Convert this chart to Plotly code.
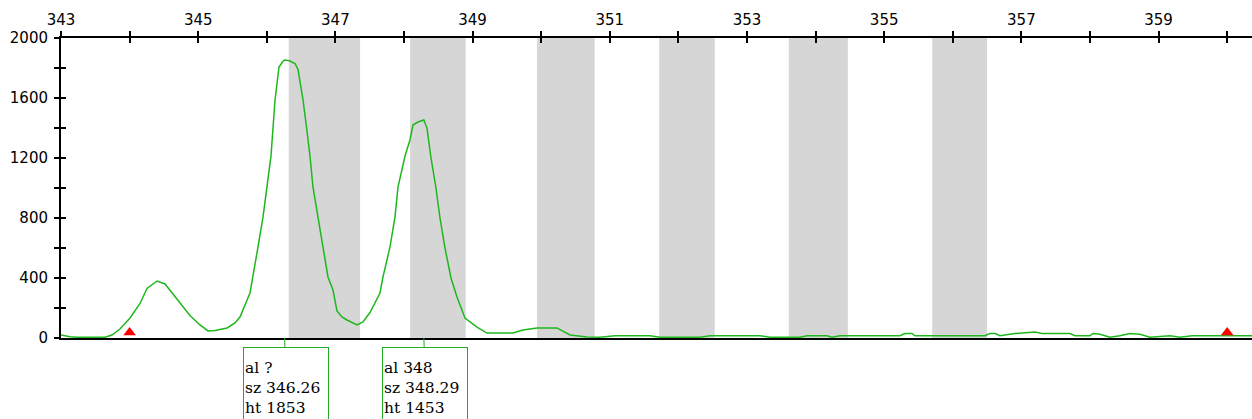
import plotly.graph_objects as go

# ---- data ----
size_bp = [343.000, 343.131, 343.233, 343.641, 343.743, 343.860, 344.006, 344.152, 344.254, 344.399,
           344.516, 344.735, 344.880, 345.026, 345.143, 345.245, 345.420, 345.536, 345.609, 345.755,
           345.799, 345.872, 345.945, 346.003, 346.061, 346.120, 346.178, 346.236, 346.260, 346.330,
           346.411, 346.455, 346.528, 346.586, 346.630, 346.673, 346.746, 346.819, 346.892, 346.965,
           347.023, 347.096, 347.169, 347.315, 347.402, 347.504, 347.650, 347.694, 347.796, 347.869,
           347.913, 348.015, 348.087, 348.131, 348.204, 348.289, 348.335, 348.394, 348.466, 348.525,
           348.598, 348.685, 348.773, 348.889, 349.064, 349.210, 349.589, 349.735, 349.939, 350.230,
           350.420, 350.668, 350.857, 351.076, 351.586, 351.732, 352.315, 352.461, 353.190, 353.335,
           353.773, 353.875, 354.166, 354.239, 354.356, 355.230, 355.303, 355.405, 355.449, 356.469,
           356.542, 356.615, 356.688, 356.907, 357.198, 357.300, 357.708, 357.781, 358.000, 358.044,
           358.146, 358.219, 358.292, 358.437, 358.583, 358.729, 358.802, 358.875, 359.166, 359.312,
           359.487, 360.362]
rfu = [20, 8, 5, 5, 20, 60, 133, 230, 330, 380,
       360, 233, 150, 87, 47, 50, 67, 100, 140, 300,
       407, 607, 807, 1007, 1213, 1587, 1807, 1845, 1853, 1848,
       1830, 1790, 1587, 1380, 1213, 1007, 807, 607, 407, 320,
       180, 140, 120, 87, 107, 170, 300, 407, 607, 807,
       1007, 1213, 1320, 1420, 1440, 1453, 1400, 1200, 1000, 800,
       600, 400, 273, 133, 73, 33, 33, 53, 67, 67,
       20, 7, 5, 15, 15, 5, 5, 15, 15, 5,
       5, 15, 15, 5, 15, 15, 30, 30, 15, 15,
       30, 30, 15, 30, 40, 30, 30, 15, 15, 30,
       25, 15, 5, 15, 30, 25, 15, 5, 15, 5,
       15, 15]

bin_start = [346.32, 348.09, 349.94, 351.72, 353.61, 355.70]
bin_end = [347.36, 348.90, 350.78, 352.53, 354.47, 356.50]

size_std_bp = [344.0, 360.0]

peak_size = [346.26, 348.29]
peak_height = [1853, 1453]
peak_allele = ["?", "348"]

x_ticks = list(range(343, 361))
x_ticktext = [str(v) if v % 2 == 1 else "" for v in x_ticks]
y_ticks = list(range(0, 2001, 200))
y_ticktext = [str(v) if v % 400 == 0 else "" for v in y_ticks]

X_RANGE = [343, 360.362]
Y_RANGE = [0, 2000]
TRACE_GREEN = "#1DB71D"
BOX_GREEN = "#22AA22"
BIN_GRAY = "#D6D6D6"
MARKER_SIZE = 11

fig = go.Figure()

fig.add_trace(go.Scatter(x=size_bp, y=rfu, mode="lines",
                         line=dict(color=TRACE_GREEN, width=1.5), showlegend=False,
                         hoverinfo="skip"))

# size-standard markers: triangle centre lifted by half its height so the base sits on 0
half_h = (MARKER_SIZE / 2) * (Y_RANGE[1] - Y_RANGE[0]) / 300.0
fig.add_trace(go.Scatter(x=size_std_bp, y=[half_h] * len(size_std_bp), mode="markers",
                         marker=dict(symbol="triangle-up", size=MARKER_SIZE, color="#FF0000"),
                         showlegend=False, cliponaxis=False, hoverinfo="skip"))

# dummy trace for the inner-tick overlay axes
fig.add_trace(go.Scatter(x=[None], y=[None], xaxis="x2", yaxis="y2", showlegend=False))

for s, e in zip(bin_start, bin_end):
    fig.add_shape(type="rect", xref="x", yref="paper", x0=s, x1=e, y0=0, y1=1,
                  fillcolor=BIN_GRAY, line=dict(width=0), layer="below")

for s, h, a in zip(peak_size, peak_height, peak_allele):
    fig.add_annotation(x=s, y=0, xref="x", yref="y",
                       text=f"al {a}<br>sz {s:.2f}<br>ht {h}",
                       showarrow=True, arrowhead=0, arrowwidth=1, arrowcolor=BOX_GREEN,
                       ax=1.5, ay=50, axref="pixel", ayref="pixel",
                       align="left", valign="middle", width=82, height=78,
                       bordercolor=BOX_GREEN, borderwidth=1, borderpad=1, bgcolor="white",
                       font=dict(family="DejaVu Serif", size=15.5, color="black"))

axis_font = dict(family="DejaVu Sans", size=15, color="black")

fig.update_layout(
    width=1252, height=419,
    margin=dict(l=61, r=0, t=38, b=81, pad=0),
    paper_bgcolor="white", plot_bgcolor="white",
    xaxis=dict(range=X_RANGE, side="top", tickvals=x_ticks, ticktext=x_ticktext,
               ticks="outside", ticklen=5, tickwidth=1.5, tickcolor="black",
               showline=True, linecolor="black", linewidth=2, mirror=True,
               showgrid=False, zeroline=False, tickfont=axis_font, ticklabelstandoff=0),
    yaxis=dict(range=Y_RANGE, tickvals=y_ticks, ticktext=y_ticktext,
               ticks="outside", ticklen=5, tickwidth=1.5, tickcolor="black",
               showline=True, linecolor="black", linewidth=2,
               showgrid=False, zeroline=False, tickfont=axis_font, ticklabelstandoff=3),
    xaxis2=dict(range=X_RANGE, overlaying="x", side="top", anchor="y", tickvals=x_ticks,
                ticks="inside", ticklen=5, tickwidth=1.5, tickcolor="black",
                showticklabels=False, showline=False, showgrid=False, zeroline=False),
    yaxis2=dict(range=Y_RANGE, overlaying="y", side="left", anchor="x", tickvals=y_ticks,
                ticks="inside", ticklen=5, tickwidth=1.5, tickcolor="black",
                showticklabels=False, showline=False, showgrid=False, zeroline=False),
)

fig.write_html("out.html", config={"displayModeBar": False},
               post_script="document.body.style.margin='0';document.body.style.overflow='hidden';")
